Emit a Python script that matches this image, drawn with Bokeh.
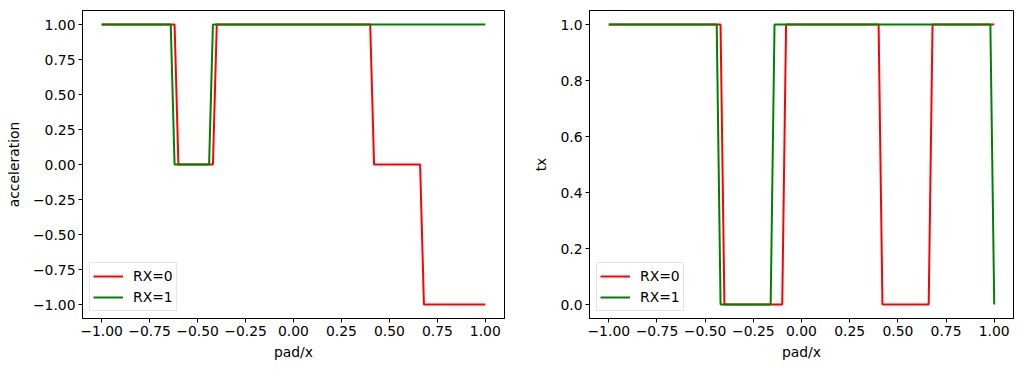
from bokeh.plotting import figure
from bokeh.layouts import row
from bokeh.models import Range1d, FixedTicker
from bokeh.embed import file_html
from bokeh.resources import INLINE

# ---- data (vertices) ----
acc_rx0_x = [-1.0, -0.62, -0.60, -0.42, -0.40, 0.40, 0.42, 0.66, 0.68, 1.0]
acc_rx0_y = [1, 1, 0, 0, 1, 1, 0, 0, -1, -1]
acc_rx1_x = [-1.0, -0.64, -0.62, -0.44, -0.42, 1.0]
acc_rx1_y = [1, 1, 0, 0, 1, 1]

tx_rx0_x = [-1.0, -0.42, -0.40, -0.10, -0.08, 0.40, 0.42, 0.66, 0.68, 1.0]
tx_rx0_y = [1, 1, 0, 0, 1, 1, 0, 0, 1, 1]
tx_rx1_x = [-1.0, -0.44, -0.42, -0.16, -0.14, 0.98, 1.0]
tx_rx1_y = [1, 1, 0, 0, 1, 1, 0]

x_ticks = [-1.0, -0.75, -0.5, -0.25, 0.0, 0.25, 0.5, 0.75, 1.0]
x_tick_labels = ["\u22121.00", "\u22120.75", "\u22120.50", "\u22120.25", "0.00", "0.25", "0.50", "0.75", "1.00"]
acc_ticks = [-1.0, -0.75, -0.5, -0.25, 0.0, 0.25, 0.5, 0.75, 1.0]
acc_tick_labels = ["\u22121.00", "\u22120.75", "\u22120.50", "\u22120.25", "0.00", "0.25", "0.50", "0.75", "1.00"]
tx_ticks = [0.0, 0.2, 0.4, 0.6, 0.8, 1.0]
tx_tick_labels = ["0.0", "0.2", "0.4", "0.6", "0.8", "1.0"]

series_labels = ["RX=0", "RX=1"]
series_colors = ["#ff0000", "#008000"]

FONT = "DejaVu Sans"
FS = "13.9px"


def style(p, xlabel, ylabel, yticks, ylabels):
    p.xgrid.visible = False
    p.ygrid.visible = False
    p.outline_line_color = "black"
    p.outline_line_width = 1
    p.background_fill_color = "white"
    p.border_fill_color = "white"
    p.xaxis.ticker = FixedTicker(ticks=x_ticks)
    p.xaxis.major_label_overrides = {t: l for t, l in zip(x_ticks, x_tick_labels)}
    p.yaxis.ticker = FixedTicker(ticks=yticks)
    p.yaxis.major_label_overrides = {t: l for t, l in zip(yticks, ylabels)}
    for ax in (p.xaxis[0], p.yaxis[0]):
        ax.axis_line_color = "black"
        ax.axis_line_width = 1
        ax.major_tick_line_color = "black"
        ax.major_tick_out = 4
        ax.major_tick_in = 0
        ax.minor_tick_out = 0
        ax.minor_tick_in = 0
        ax.major_label_text_font = FONT
        ax.major_label_text_font_size = FS
        ax.major_label_text_color = "black"
        ax.major_label_standoff = 3
        ax.axis_label_text_font = FONT
        ax.axis_label_text_font_size = FS
        ax.axis_label_text_font_style = "normal"
        ax.axis_label_text_color = "black"
    p.xaxis.axis_label = xlabel
    p.yaxis.axis_label = ylabel
    p.xaxis.axis_label_standoff = 5
    p.yaxis.axis_label_standoff = 8


def add_legend(p):
    lg = p.legend[0]
    lg.location = "bottom_left"
    lg.margin = 7
    lg.padding = 3
    lg.spacing = 1
    lg.glyph_width = 30
    lg.glyph_height = 20
    lg.label_height = 20
    lg.label_standoff = 10
    lg.label_text_font = FONT
    lg.label_text_font_size = FS
    lg.label_text_color = "black"
    lg.border_line_color = "#cccccc"
    lg.border_line_width = 1
    lg.background_fill_alpha = 0.8
    lg.background_fill_color = "white"


p1 = figure(frame_width=422, frame_height=308, output_backend="svg", toolbar_location=None,
            x_range=Range1d(-1.1, 1.1), y_range=Range1d(-1.1, 1.1),
            min_border_left=82, min_border_right=10, min_border_top=10, min_border_bottom=45)
p1.line(acc_rx0_x, acc_rx0_y, color=series_colors[0], line_width=2, legend_label=series_labels[0])
p1.line(acc_rx1_x, acc_rx1_y, color=series_colors[1], line_width=2, legend_label=series_labels[1])
style(p1, "pad/x", "acceleration", acc_ticks, acc_tick_labels)
add_legend(p1)

p2 = figure(frame_width=424, frame_height=308, output_backend="svg", toolbar_location=None,
            x_range=Range1d(-1.1, 1.1), y_range=Range1d(-0.05, 1.05),
            min_border_left=75, min_border_right=1, min_border_top=10, min_border_bottom=45)
p2.line(tx_rx0_x, tx_rx0_y, color=series_colors[0], line_width=2, legend_label=series_labels[0])
p2.line(tx_rx1_x, tx_rx1_y, color=series_colors[1], line_width=2, legend_label=series_labels[1])
style(p2, "pad/x", "tx", tx_ticks, tx_tick_labels)
add_legend(p2)

layout = row(p1, p2)
open("out.html", "w").write(file_html(layout, INLINE))
